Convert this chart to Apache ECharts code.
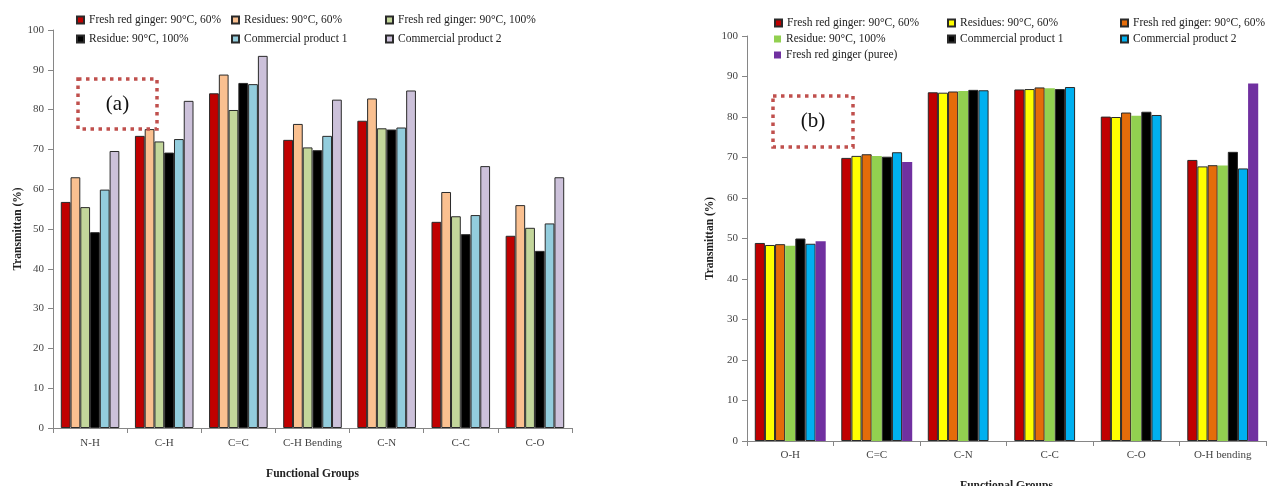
<!DOCTYPE html>
<html>
<head>
<meta charset="utf-8">
<script src="https://cdn.jsdelivr.net/npm/echarts@6/dist/echarts.min.js"></script>
<style>
html,body{margin:0;padding:0;background:#fff;}
#a{position:absolute;left:0;top:0;width:640px;height:486px;}
#b{position:absolute;left:640px;top:0;width:630px;height:486px;}
</style>
</head>
<body>
<div id="a"></div>
<div id="b"></div>
<script>
// ---------- Data (a) ----------
const catsA = ['N-H', 'C-H', 'C=C', 'C-H Bending', 'C-N', 'C-C', 'C-O'];
const namesA = ['Fresh red ginger: 90°C, 60%', 'Residues: 90°C, 60%', 'Fresh red ginger: 90°C, 100%',
                'Residue: 90°C, 100%', 'Commercial product 1', 'Commercial product 2'];
const freshA60  = [56.8, 73.4, 84.1, 72.4, 77.2, 51.8, 48.3];
const resA60    = [63.0, 75.1, 88.8, 76.4, 82.8, 59.3, 56.0];
const freshA100 = [55.5, 72.0, 79.9, 70.5, 75.3, 53.2, 50.3];
const resA100   = [49.2, 69.2, 86.7, 69.8, 75.0, 48.7, 44.5];
const comA1     = [59.9, 72.6, 86.4, 73.4, 75.5, 53.5, 51.4];
const comA2     = [69.6, 82.2, 93.5, 82.5, 84.8, 65.8, 63.0];
const valuesA = [freshA60, resA60, freshA100, resA100, comA1, comA2];

// ---------- Data (b) ----------
const catsB = ['O-H', 'C=C', 'C-N', 'C-C', 'C-O', 'O-H bending'];
const namesB = ['Fresh red ginger: 90°C, 60%', 'Residues: 90°C, 60%', 'Fresh red ginger: 90°C, 60%\u200B',
                'Residue: 90°C, 100%', 'Commercial product 1', 'Commercial product 2', 'Fresh red ginger (puree)'];
const freshB60a = [48.9, 69.9, 86.1, 86.8, 80.1, 69.4];
const resB60    = [48.4, 70.4, 86.0, 86.9, 80.0, 67.8];
const freshB60b = [48.6, 70.8, 86.3, 87.3, 81.1, 68.1];
const resB100   = [48.2, 70.4, 86.4, 87.1, 80.3, 68.0];
const comB1     = [50.0, 70.2, 86.7, 86.9, 81.3, 71.4];
const comB2     = [48.7, 71.3, 86.6, 87.4, 80.5, 67.3];
const pureeB    = [49.3, 68.9, null, null, null, 88.3];
const valuesB = [freshB60a, resB60, freshB60b, resB100, comB1, comB2, pureeB];

const FONT = '"Liberation Serif", "DejaVu Serif", serif';

const colorsA = ['#c00000', '#fac090', '#c3d69b', '#000000', '#93cddd', '#ccc1da'];
const bordersA = [1, 1, 1, 1, 1, 1];
const colorsB = ['#c00000', '#ffff00', '#e46c0a', '#92d050', '#000000', '#00b0f0', '#7030a0'];
const bordersB = [1, 1, 1, 0, 1, 1, 0];

function axes(cats, cfg) {
  return {
    xAxis: {
      type: 'category', data: cats,
      name: 'Functional Groups', nameLocation: 'middle', nameGap: cfg.xNameGap,
      nameTextStyle: { fontFamily: FONT, fontWeight: 'bold', fontSize: 11.5, color: '#222' },
      axisLine: { lineStyle: { color: '#868686', width: 1 } },
      axisTick: { show: true, length: 5, lineStyle: { color: '#868686' } },
      axisLabel: { fontFamily: FONT, fontSize: 11, color: '#444', margin: cfg.xMargin, interval: 0 }
    },
    yAxis: {
      type: 'value', min: 0, max: 100, interval: 10,
      name: 'Transmittan (%)', nameLocation: 'middle', nameGap: cfg.yNameGap, nameRotate: 90,
      nameMoveOverlap: false,
      nameTextStyle: { fontFamily: FONT, fontWeight: 'bold', fontSize: 11.5, color: '#222' },
      axisLine: { show: true, lineStyle: { color: '#868686', width: 1 } },
      axisTick: { show: true, length: 5, lineStyle: { color: '#868686' } },
      axisLabel: { fontFamily: FONT, fontSize: 11, color: '#444', margin: 9 },
      splitLine: { show: false }
    }
  };
}

function legends(names, pos) {
  return names.map((n, i) => ({
    data: [n], left: pos[i][0], top: pos[i][1], orient: 'horizontal',
    icon: 'rect', itemWidth: 7, itemHeight: 7, itemGap: 0, padding: 0,
    textStyle: { fontFamily: FONT, fontSize: 11.5, color: '#222' }
  }));
}

function seriesOf(names, values, colors, borders, gap) {
  return names.map((n, i) => ({
    type: 'bar', name: n, data: values[i],
    barGap: '0%', barCategoryGap: gap,
    itemStyle: { color: colors[i], borderColor: '#2a2a2a', borderWidth: borders[i] },
    emphasis: { disabled: true }
  }));
}

function box(l, t, r, b, label) {
  return [
    { type: 'rect', shape: { x: l, y: t, width: r - l, height: b - t },
      style: { fill: 'none', stroke: '#c0504d', lineWidth: 3.5, lineDash: [3.5, 4.5] }, z: 100 },
    { type: 'text', x: (l + r) / 2, y: (t + b) / 2,
      style: { text: label, font: '21px ' + FONT, fill: '#111', align: 'center', verticalAlign: 'middle' }, z: 100 }
  ];
}

// ---------- Chart (a) ----------
const chA = echarts.init(document.getElementById('a'), null, { renderer: 'canvas' });
const axA = axes(catsA, { xNameGap: 40, yNameGap: 29, xMargin: 10 });
chA.setOption({
  animation: false,
  grid: { left: 53, top: 30, width: 519, height: 398, containLabel: false, outerBoundsMode: 'none' },
  xAxis: axA.xAxis, yAxis: axA.yAxis,
  legend: legends(namesA, [[76, 14], [231, 14], [385, 14], [76, 33], [231, 33], [385, 33]]),
  series: seriesOf(namesA, valuesA, colorsA, bordersA, '21%'),
  graphic: box(78, 79, 157, 129, '(a)')
});

// ---------- Chart (b) ----------
const chB = echarts.init(document.getElementById('b'), null, { renderer: 'canvas' });
const axB = axes(catsB, { xNameGap: 39, yNameGap: 31, xMargin: 9 });
chB.setOption({
  animation: false,
  grid: { left: 107, top: 36, width: 519, height: 405, containLabel: false, outerBoundsMode: 'none' },
  xAxis: axB.xAxis, yAxis: axB.yAxis,
  legend: legends(namesB, [[134, 17], [307, 17], [480, 17], [134, 33], [307, 33], [480, 33], [134, 49]]),
  series: seriesOf(namesB, valuesB, colorsB, bordersB, '18%'),
  graphic: box(133, 96, 213, 147, '(b)')
});
</script>
</body>
</html>
